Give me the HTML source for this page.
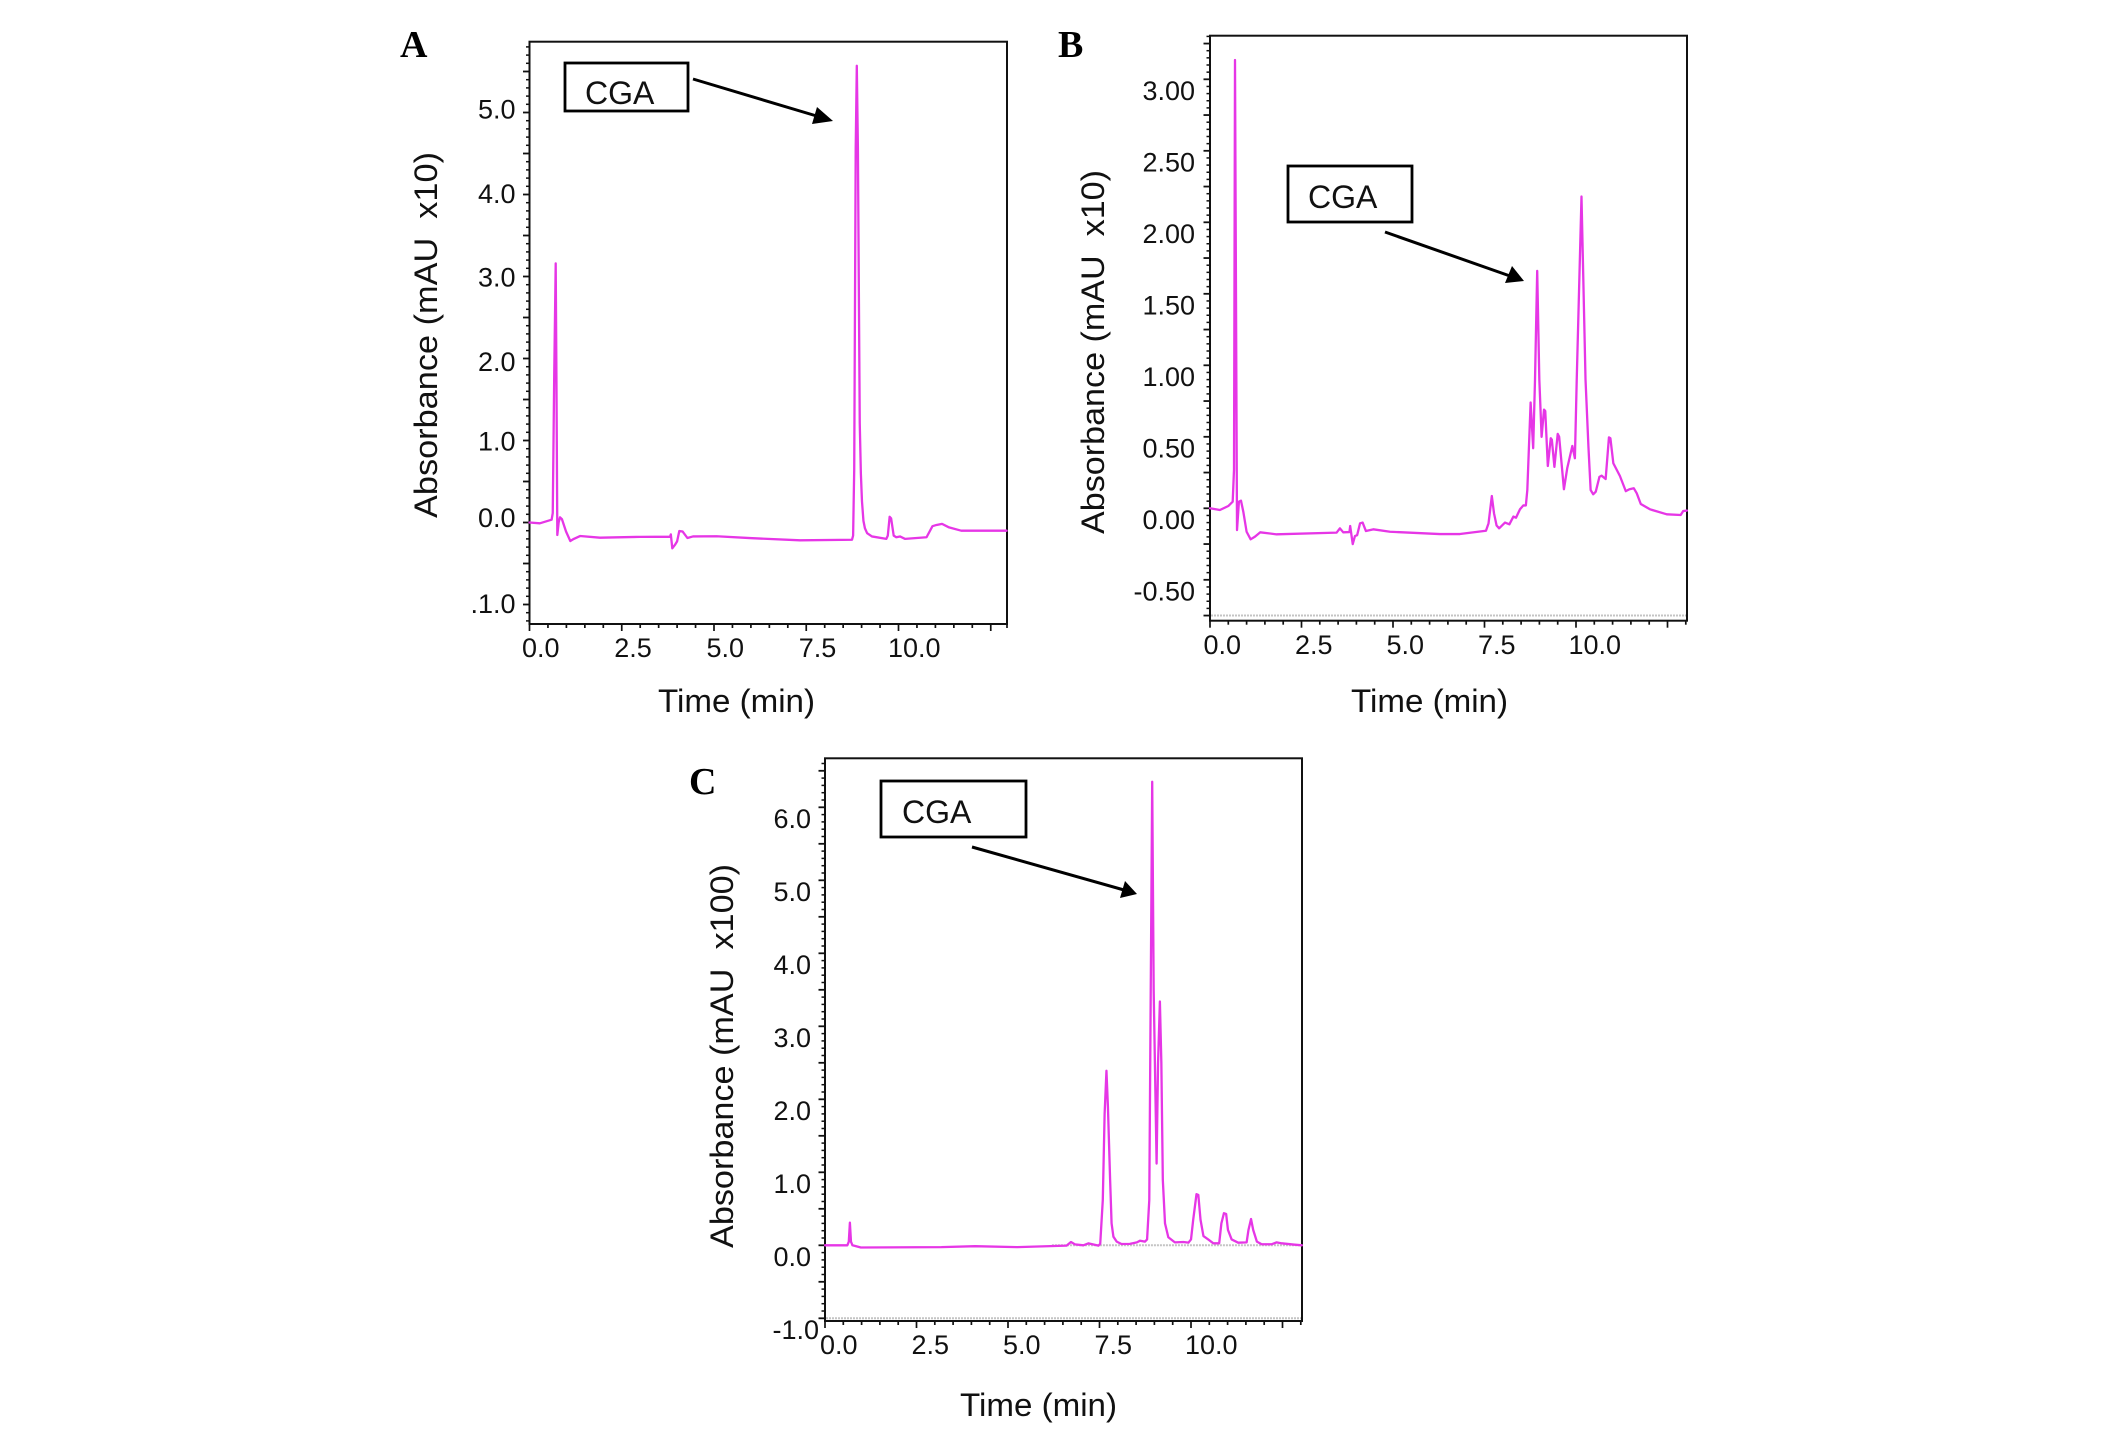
<!DOCTYPE html>
<html lang="en">
<head>
<meta charset="utf-8">
<title>HPLC chromatograms A, B and C</title>
<style>
  html, body { margin: 0; padding: 0; background: #fff; }
  svg { display: block; font-family: "Liberation Sans", sans-serif; }
  .panel-letter { font-family: "Liberation Serif", serif; font-weight: bold; font-size: 38px; fill: #000; }
  .axis-title { font-size: 32px; fill: #111; }
  .cga-text { font-size: 32px; fill: #111; }
  .cga-box { fill: #fff; stroke: #000; stroke-width: 2.8; }
  .arrow-line { stroke: #000; stroke-width: 3; fill: none; }
</style>
</head>
<body>
<svg id="figure" xmlns="http://www.w3.org/2000/svg" width="2126" height="1435" viewBox="0 0 2126 1435">
  <rect x="0" y="0" width="2126" height="1435" fill="#fff"/>
  <g id="panels"></g>

  <text class="panel-letter" x="400" y="57">A</text>
  <text class="panel-letter" x="1058" y="57">B</text>
  <text class="panel-letter" x="689" y="794">C</text>

  <text class="axis-title" transform="translate(437,518) rotate(-90)" textLength="366" lengthAdjust="spacingAndGlyphs" xml:space="preserve">Absorbance (mAU  x10)</text>
  <text class="axis-title" transform="translate(1104,534) rotate(-90)" textLength="364" lengthAdjust="spacingAndGlyphs" xml:space="preserve">Absorbance (mAU  x10)</text>
  <text class="axis-title" transform="translate(733,1248) rotate(-90)" textLength="384" lengthAdjust="spacingAndGlyphs" xml:space="preserve">Absorbance (mAU  x100)</text>

  <text class="axis-title" x="658" y="712" textLength="157" lengthAdjust="spacingAndGlyphs">Time (min)</text>
  <text class="axis-title" x="1351" y="712" textLength="157" lengthAdjust="spacingAndGlyphs">Time (min)</text>
  <text class="axis-title" x="960" y="1416" textLength="157" lengthAdjust="spacingAndGlyphs">Time (min)</text>

  <g>
    <rect class="cga-box" x="565" y="63" width="123" height="48"/>
    <text class="cga-text" x="585" y="104">CGA</text>
    <line class="arrow-line" x1="693" y1="79" x2="820" y2="117"/>
    <polygon points="833,121 817,107 812,124" fill="#000"/>
  </g>
  <g>
    <rect class="cga-box" x="1288" y="166" width="124" height="56"/>
    <text class="cga-text" x="1308" y="208">CGA</text>
    <line class="arrow-line" x1="1385" y1="232" x2="1510" y2="276"/>
    <polygon points="1524,281 1512,266 1505,283" fill="#000"/>
  </g>
  <g>
    <rect class="cga-box" x="881" y="781" width="145" height="56"/>
    <text class="cga-text" x="902" y="823">CGA</text>
    <line class="arrow-line" x1="972" y1="847" x2="1124" y2="890"/>
    <polygon points="1137,894 1125,881 1120,898" fill="#000"/>
  </g>
</svg>

<script>
// Chromatogram readings: time (min) and absorbance for each panel.
var aTimes = [0, 0.28, 0.6, 0.63, 0.67, 0.71, 0.73, 0.754, 0.79, 0.827, 0.88, 0.99, 1.106, 1.2, 1.37, 1.91, 3.0, 3.81, 3.83, 3.87, 3.94, 4.0, 4.06, 4.15, 4.28, 4.43, 5.07, 5.97, 7.33, 8.74, 8.77, 8.8, 8.84, 8.87, 8.9, 8.95, 8.98, 9.01, 9.05, 9.09, 9.15, 9.28, 9.67, 9.71, 9.76, 9.8, 9.87, 9.94, 10.04, 10.18, 10.76, 10.92, 11.03, 11.18, 11.37, 11.7, 12.93];
var aValues = [0, -0.01, 0.034, 0.115, 1.8, 3.16, 1.77, -0.152, 0.0, 0.063, 0.04, -0.11, -0.226, -0.2, -0.165, -0.185, -0.175, -0.173, -0.145, -0.315, -0.274, -0.23, -0.104, -0.11, -0.189, -0.17, -0.168, -0.19, -0.217, -0.21, -0.16, 0.65, 4.56, 5.57, 4.56, 1.21, 0.6, 0.26, 0.02, -0.07, -0.13, -0.17, -0.2, -0.16, 0.07, 0.05, -0.16, -0.18, -0.17, -0.2, -0.18, -0.045, -0.03, -0.017, -0.06, -0.1, -0.1];

var bTimes = [0, 0.27, 0.5, 0.62, 0.656, 0.683, 0.71, 0.738, 0.79, 0.847, 0.91, 1.0, 1.11, 1.23, 1.37, 1.82, 3.46, 3.55, 3.64, 3.81, 3.83, 3.9, 3.96, 4.02, 4.1, 4.17, 4.26, 4.46, 4.92, 6.28, 6.83, 7.54, 7.61, 7.7, 7.76, 7.83, 7.9, 8.06, 8.18, 8.29, 8.36, 8.47, 8.56, 8.63, 8.67, 8.76, 8.83, 8.88, 8.94, 8.998, 9.06, 9.126, 9.16, 9.23, 9.31, 9.34, 9.41, 9.5, 9.54, 9.67, 9.76, 9.9, 9.97, 10.02, 10.15, 10.26, 10.34, 10.4, 10.47, 10.54, 10.64, 10.7, 10.81, 10.9, 10.94, 11.02, 11.2, 11.36, 11.46, 11.58, 11.66, 11.77, 12.02, 12.48, 12.86, 12.93, 13.03];
var bValues = [0, -0.012, 0.016, 0.046, 0.27, 3.135, 1.5, -0.152, 0.046, 0.053, -0.024, -0.164, -0.217, -0.198, -0.168, -0.182, -0.17, -0.14, -0.168, -0.166, -0.124, -0.25, -0.194, -0.188, -0.105, -0.1, -0.159, -0.147, -0.164, -0.18, -0.18, -0.157, -0.105, 0.086, -0.035, -0.12, -0.14, -0.1, -0.112, -0.058, -0.066, -0.007, 0.02, 0.02, 0.128, 0.74, 0.42, 0.9, 1.66, 0.9, 0.5, 0.69, 0.68, 0.296, 0.49, 0.48, 0.29, 0.52, 0.5, 0.133, 0.28, 0.436, 0.35, 0.9, 2.18, 0.9, 0.43, 0.128, 0.098, 0.116, 0.22, 0.228, 0.205, 0.496, 0.49, 0.315, 0.226, 0.12, 0.133, 0.14, 0.105, 0.03, -0.007, -0.042, -0.047, -0.019, -0.016];

var cTimes = [0, 0.61, 0.65, 0.68, 0.71, 0.75, 0.98, 3.18, 4.1, 5.26, 6.6, 6.72, 6.83, 7.06, 7.2, 7.47, 7.52, 7.59, 7.64, 7.69, 7.73, 7.79, 7.83, 7.88, 7.97, 8.1, 8.33, 8.52, 8.61, 8.74, 8.8, 8.86, 8.9, 8.94, 8.98, 9.06, 9.1, 9.15, 9.19, 9.23, 9.29, 9.38, 9.56, 9.79, 9.93, 10.0, 10.06, 10.15, 10.2, 10.26, 10.34, 10.47, 10.61, 10.77, 10.83, 10.9, 10.96, 11.01, 11.11, 11.29, 11.52, 11.57, 11.64, 11.7, 11.8, 11.93, 12.2, 12.34, 12.48, 12.8, 13.03];
var cValues = [0, 0, 0.05, 0.31, 0.05, 0, -0.03, -0.025, -0.012, -0.025, -0.005, 0.045, 0.013, 0, 0.027, -0.005, 0.02, 0.62, 1.8, 2.39, 1.9, 0.9, 0.3, 0.118, 0.05, 0.018, 0.02, 0.04, 0.063, 0.05, 0.08, 0.62, 3.5, 6.35, 3.5, 1.12, 2.5, 3.34, 2.5, 0.895, 0.3, 0.11, 0.04, 0.045, 0.036, 0.08, 0.35, 0.7, 0.69, 0.35, 0.127, 0.08, 0.027, 0.027, 0.3, 0.44, 0.43, 0.21, 0.08, 0.036, 0.04, 0.21, 0.36, 0.21, 0.05, 0.014, 0.014, 0.04, 0.027, 0.01, 0];

// Tick values and their printed labels.
var xTickValues = [0, 2.5, 5, 7.5, 10];
var xTickLabels = ['0.0', '2.5', '5.0', '7.5', '10.0'];
var aYTickValues = [-1, 0, 1, 2, 3, 4, 5];
var aYTickLabels = ['.1.0', '0.0', '1.0', '2.0', '3.0', '4.0', '5.0'];
var bYTickValues = [-0.5, 0, 0.5, 1, 1.5, 2, 2.5, 3];
var bYTickLabels = ['-0.50', '0.00', '0.50', '1.00', '1.50', '2.00', '2.50', '3.00'];
var cYTickValues = [-1, 0, 1, 2, 3, 4, 5, 6];
var cYTickLabels = ['-1.0', '0.0', '1.0', '2.0', '3.0', '4.0', '5.0', '6.0'];
var bGuideValues = [-0.75];
var cGuideValues = [-1, 0];
var noGuideValues = [];

var SVG_NS = 'http://www.w3.org/2000/svg';
var root = document.getElementById('panels');

function make(tag, parent, attrs) {
  var node = document.createElementNS(SVG_NS, tag);
  for (var key in attrs) { node.setAttribute(key, attrs[key]); }
  parent.appendChild(node);
  return node;
}

function drawPanel(cfg) {
  function xScale(t) { return cfg.x0 + t * cfg.pxPerMin; }
  function yScale(v) { return cfg.yZero - v * cfg.pxPerUnit; }

  var group = make('g', root, {});
  
  

  var plot = make('rect', group, { x: cfg.left, y: cfg.top, width: cfg.right - cfg.left, height: cfg.bottom - cfg.top, fill: '#fff', stroke: '#111', 'stroke-width': 2 });
  
  

  // Gray reference lines
  cfg.guides.forEach(function (v) {
    var guide = make('line', group, { x1: v === 0 ? xScale(6.2) : cfg.left + 1, x2: cfg.right - 1, y1: yScale(v), y2: yScale(v), stroke: '#c4c4c4', 'stroke-width': 2, 'stroke-dasharray': '2 1' });
    
    
  });

  // Y ticks
  var yLow = Math.ceil((cfg.yZero - cfg.bottom) / cfg.pxPerUnit / cfg.yMinorStep);
  var yHigh = Math.floor((cfg.yZero - cfg.top) / cfg.pxPerUnit / cfg.yMinorStep);
  for (var k = yLow; k <= yHigh; k++) {
    var value = k * cfg.yMinorStep;
    var isLong = k % cfg.yLongEvery === 0;
    var ty = make('line', group, { x1: cfg.left - (isLong ? 6.5 : 3.5), x2: cfg.left, y1: yScale(value), y2: yScale(value), stroke: '#111', 'stroke-width': isLong ? 1.8 : 1.5 });
    
    
  }

  // X ticks: every half minute, major every 2.5 minutes, up to the right border
  var xCount = Math.floor((cfg.right + 3 - cfg.x0) / cfg.pxPerMin / 0.5);
  for (var m = 0; m <= xCount; m++) {
    var isMajor = m % 5 === 0;
    var tickX = Math.min(xScale(m * 0.5), cfg.right);
    var tx = make('line', group, { x1: tickX, x2: tickX, y1: cfg.bottom, y2: cfg.bottom + (isMajor ? 7 : 4), stroke: '#111', 'stroke-width': 1.7 });
    
    
  }

  // Tick labels
  cfg.yTickValues.forEach(function (v, i) {
    var text = cfg.yTickLabels[i];
    var nudgeX = (v < 0 && cfg.negativeLabelDx) ? cfg.negativeLabelDx : 0;
    var nudgeY = (cfg.yLabelNudges && cfg.yLabelNudges[text]) || 0;
    var label = make('text', group, { x: cfg.yLabelRight + nudgeX, y: yScale(v) + cfg.yLabelDy + nudgeY, 'text-anchor': 'end', 'font-size': 27, fill: '#111' });
    label.textContent = text;
    
    
  });
  xTickValues.forEach(function (t, i) {
    var extra = i === xTickValues.length - 1 ? cfg.lastXLabelDx : 0;
    var label = make('text', group, { x: xScale(t) + cfg.xLabelDx + extra, y: cfg.xLabelBaseline, 'text-anchor': 'start', 'font-size': 27, fill: '#111' });
    label.textContent = xTickLabels[i];
    
    
  });

  // Trace
  var d = '';
  cfg.times.forEach(function (t, i) {
    d += (i === 0 ? 'M' : 'L') + xScale(t).toFixed(2) + ' ' + yScale(cfg.values[i]).toFixed(2);
  });
  var trace = make('path', group, { d: d, fill: 'none', stroke: '#e636e6', 'stroke-width': 2.3, 'stroke-linejoin': 'round', 'stroke-linecap': 'round' });
  
  
}

drawPanel({ id: 'a', left: 529.5, right: 1007, top: 41.7, bottom: 624, x0: 529.5, pxPerMin: 36.9, yZero: 522.5, pxPerUnit: 82,
  yMinorStep: 0.1, yLongEvery: 5, yTickValues: aYTickValues, yTickLabels: aYTickLabels, yLabelRight: 515.5, yLabelDy: 8.5,
  yLabelNudges: { '5.0': -2.7, '3.0': 1.4, '2.0': 4, '1.0': 1.4, '0.0': -4 },
  xLabelDx: -7.5, lastXLabelDx: -3, xLabelBaseline: 657, guides: noGuideValues, times: aTimes, values: aValues });

drawPanel({ id: 'b', left: 1210, right: 1687, top: 35.7, bottom: 620.7, x0: 1210, pxPerMin: 36.6, yZero: 508.3, pxPerUnit: 143,
  yMinorStep: 0.05, yLongEvery: 5, yTickValues: bYTickValues, yTickLabels: bYTickLabels, yLabelRight: 1195, yLabelDy: 20.5,
  xLabelDx: -6.5, lastXLabelDx: -1, xLabelBaseline: 654, guides: bGuideValues, times: bTimes, values: bValues });

drawPanel({ id: 'c', left: 825, right: 1302, top: 758.3, bottom: 1321, x0: 825, pxPerMin: 36.6, yZero: 1245.3, pxPerUnit: 73,
  yMinorStep: 0.1, yLongEvery: 5, yTickValues: cYTickValues, yTickLabels: cYTickLabels, yLabelRight: 811, yLabelDy: 20.5, negativeLabelDx: 8,
  xLabelDx: -5, lastXLabelDx: -1, xLabelBaseline: 1354, guides: cGuideValues, times: cTimes, values: cValues });
</script>
</body>
</html>
